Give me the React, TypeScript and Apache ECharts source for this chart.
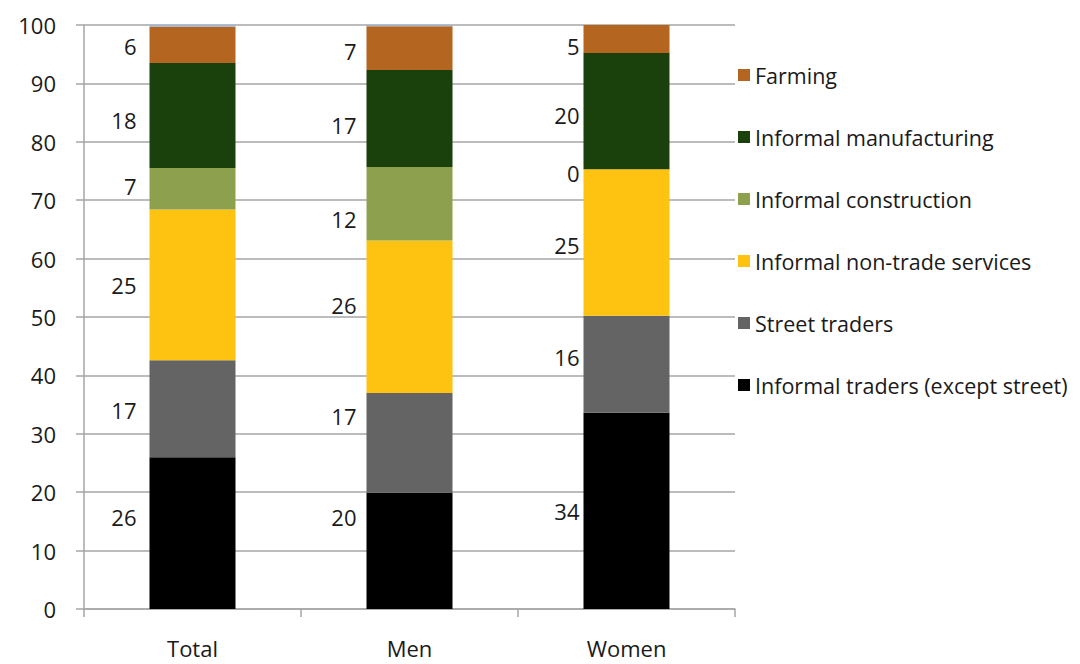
import React, { useEffect, useRef } from "react";
import * as echarts from "echarts";

const categories = ["Total", "Men", "Women"];
const yTicks = [0, 10, 20, 30, 40, 50, 60, 70, 80, 90, 100];

// bar segment heights (percent)
const tradersExceptStreet = [26.0, 19.9, 33.6];
const streetTraders = [16.6, 17.1, 16.6];
const nonTradeServices = [25.8, 26.1, 25.1];
const construction = [7.1, 12.6, 0];
const manufacturing = [18.0, 16.6, 19.9];
const farming = [6.2, 7.5, 4.8];
const other = [0.3, 0.2, 0];

// printed data labels
const tradersExceptStreetLabels = [26, 20, 34];
const streetTradersLabels = [17, 17, 16];
const nonTradeServicesLabels = [25, 26, 25];
const constructionLabels = [7, 12, 0];
const manufacturingLabels = [18, 17, 20];
const farmingLabels = [6, 7, 5];

const FONT = "'Open Sans', Lato, sans-serif";

// layout tweaks for label placement (not data)
const LABEL_DISTANCE = [13, 10, 4];
const LABEL_DY: Record<string, number[]> = {
  traders: [-16, -34, 0],
  street: [1, -27, -7],
  nontrade: [0, -12, 2],
  construction: [-3, 15, 4],
  manufacturing: [4, 7, 4],
  farming: [1, 3, 7],
};

export default function App() {
  const ref = useRef<HTMLDivElement>(null);
  useEffect(() => {
    document.body.style.margin = "0";
    const chart = echarts.init(ref.current!, null, { renderer: "svg" });

    const mk = (
      name: string,
      key: string,
      values: number[],
      labels: number[] | null,
      color: string
    ) => ({
      name,
      type: "bar",
      stack: "s",
      barWidth: 86,
      itemStyle: { color },
      data: values.map((v, i) => ({
        value: v,
        label: labels
          ? {
              show: true,
              position: "left",
              distance: LABEL_DISTANCE[i],
              offset: [0, LABEL_DY[key][i]],
              formatter: String(labels[i]),
              fontFamily: FONT,
              fontSize: 22,
              color: "#1a1a1a",
            }
          : { show: false },
      })),
    });

    chart.setOption({
      animation: false,
      backgroundColor: "#ffffff",
      grid: { left: 84, right: 345, top: 25, bottom: 55 },
      xAxis: {
        type: "category",
        data: categories,
        axisLine: { lineStyle: { color: "#a6a6a6", width: 1.5 } },
        axisTick: { show: true, length: 8, lineStyle: { color: "#a6a6a6", width: 1.5 } },
        axisLabel: { margin: 28, fontFamily: FONT, fontSize: 22, color: "#1a1a1a" },
      },
      yAxis: {
        type: "value",
        min: yTicks[0],
        max: yTicks[yTicks.length - 1],
        interval: 10,
        axisLine: { show: true, lineStyle: { color: "#a6a6a6", width: 1.5 } },
        axisTick: { show: true, length: 8, lineStyle: { color: "#a6a6a6", width: 1.5 } },
        splitLine: { show: true, lineStyle: { color: "#a6a6a6", width: 1.5 } },
        axisLabel: { margin: 28, fontFamily: FONT, fontSize: 22, color: "#1a1a1a" },
      },
      legend: {
        orient: "vertical",
        left: 733,
        top: 59,
        itemWidth: 12,
        itemHeight: 12,
        itemGap: 40,
        icon: "rect",
        data: [
          "Farming",
          "Informal manufacturing",
          "Informal construction",
          "Informal non-trade services",
          "Street traders",
          "Informal traders (except street)",
        ],
        textStyle: { fontFamily: FONT, fontSize: 21.5, lineHeight: 21, color: "#1a1a1a" },
      },
      series: [
        mk("Informal traders (except street)", "traders", tradersExceptStreet, tradersExceptStreetLabels, "#000000"),
        mk("Street traders", "street", streetTraders, streetTradersLabels, "#646464"),
        mk("Informal non-trade services", "nontrade", nonTradeServices, nonTradeServicesLabels, "#fec310"),
        mk("Informal construction", "construction", construction, constructionLabels, "#8da04d"),
        mk("Informal manufacturing", "manufacturing", manufacturing, manufacturingLabels, "#1a400b"),
        mk("Farming", "farming", farming, farmingLabels, "#b4651f"),
        mk("Other", "other", other, null, "#9db3d8"),
      ],
    });
    return () => chart.dispose();
  }, []);
  return <div ref={ref} style={{ width: 1080, height: 664 }} />;
}
